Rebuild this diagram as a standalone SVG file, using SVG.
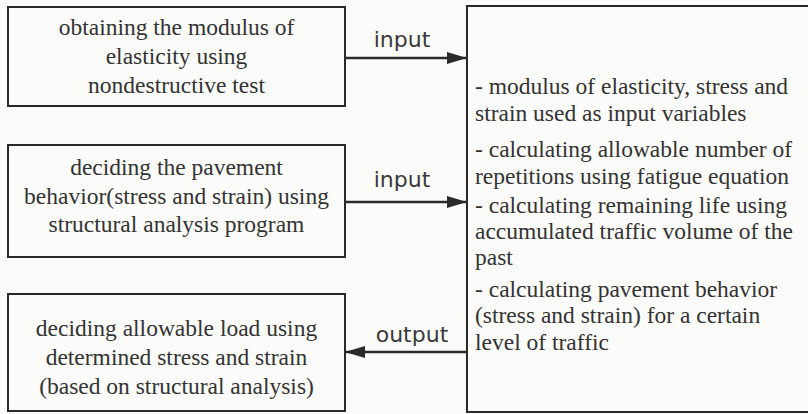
<svg xmlns="http://www.w3.org/2000/svg" width="808" height="414" viewBox="0 0 808 414">
  <defs>
    <marker id="arrowhead" viewBox="0 0 20 12" refX="20" refY="6" markerWidth="20" markerHeight="12" markerUnits="userSpaceOnUse" orient="auto">
      <path d="M0,0 L20,6 L0,12 Z" fill="#2a2a2a"/>
    </marker>
  </defs>
  <style>
    .box { fill: none; stroke: #2a2a2a; stroke-width: 2; }
    .txt { font-family: 'Liberation Serif', 'DejaVu Serif', 'Times New Roman', serif; font-size: 23.5px; fill: #333; }
    .mid { text-anchor: middle; }
    .lbl { font-family: 'DejaVu Sans', 'Liberation Sans', sans-serif; font-size: 22px; fill: #3a3a3a; text-anchor: middle; }
    .conn { stroke: #2a2a2a; stroke-width: 2.5; fill: none; }
  </style>
  <rect width="808" height="414" fill="#fbfbf9"/>

  <!-- source: modulus from nondestructive test -->
  <g id="ndt">
    <rect class="box" x="8" y="7" width="337" height="99"/>
    <text class="txt mid" font-family="Liberation Serif, DejaVu Serif, serif" x="176.5" y="35">obtaining the modulus of</text>
    <text class="txt mid" font-family="Liberation Serif, DejaVu Serif, serif" x="176.5" y="64">elasticity using</text>
    <text class="txt mid" font-family="Liberation Serif, DejaVu Serif, serif" x="176.5" y="93">nondestructive test</text>
  </g>

  <!-- source: structural analysis program -->
  <g id="structural">
    <rect class="box" x="8" y="145" width="337" height="112"/>
    <text class="txt mid" x="176.5" y="175">deciding the pavement</text>
    <text class="txt mid" x="176.5" y="204">behavior(stress and strain)  using</text>
    <text class="txt mid" x="176.5" y="232">structural analysis program</text>
  </g>

  <!-- result: allowable load -->
  <g id="allowable">
    <rect class="box" x="8" y="294" width="337" height="117"/>
    <text class="txt mid" x="176.5" y="336">deciding allowable load using</text>
    <text class="txt mid" x="176.5" y="365">determined stress and strain</text>
    <text class="txt mid" x="176.5" y="394">(based on structural analysis)</text>
  </g>

  <!-- processing steps -->
  <g id="process">
    <rect class="box" x="467" y="6" width="360" height="406"/>
    <text class="txt" x="475" y="94">- modulus of elasticity, stress and</text>
    <text class="txt" x="475" y="121">strain used as input variables</text>
    <text class="txt" x="475" y="157">- calculating allowable number of</text>
    <text class="txt" x="475" y="184">repetitions using fatigue equation</text>
    <text class="txt" x="475" y="213">- calculating remaining life using</text>
    <text class="txt" x="475" y="239">accumulated traffic volume of the</text>
    <text class="txt" x="475" y="265">past</text>
    <text class="txt" x="475" y="297">- calculating pavement behavior</text>
    <text class="txt" x="475" y="323">(stress and strain) for a certain</text>
    <text class="txt" x="475" y="350">level of traffic</text>
  </g>

  <g id="connectors">
    <line class="conn" x1="345" y1="58" x2="467" y2="58" marker-end="url(#arrowhead)"/>
    <text class="lbl" x="402" y="47">input</text>
    <line class="conn" x1="345" y1="202" x2="467" y2="202" marker-end="url(#arrowhead)"/>
    <text class="lbl" x="402" y="187">input</text>
    <line class="conn" x1="467" y1="352" x2="345" y2="352" marker-end="url(#arrowhead)"/>
    <text class="lbl" x="412" y="342">output</text>
  </g>
</svg>
